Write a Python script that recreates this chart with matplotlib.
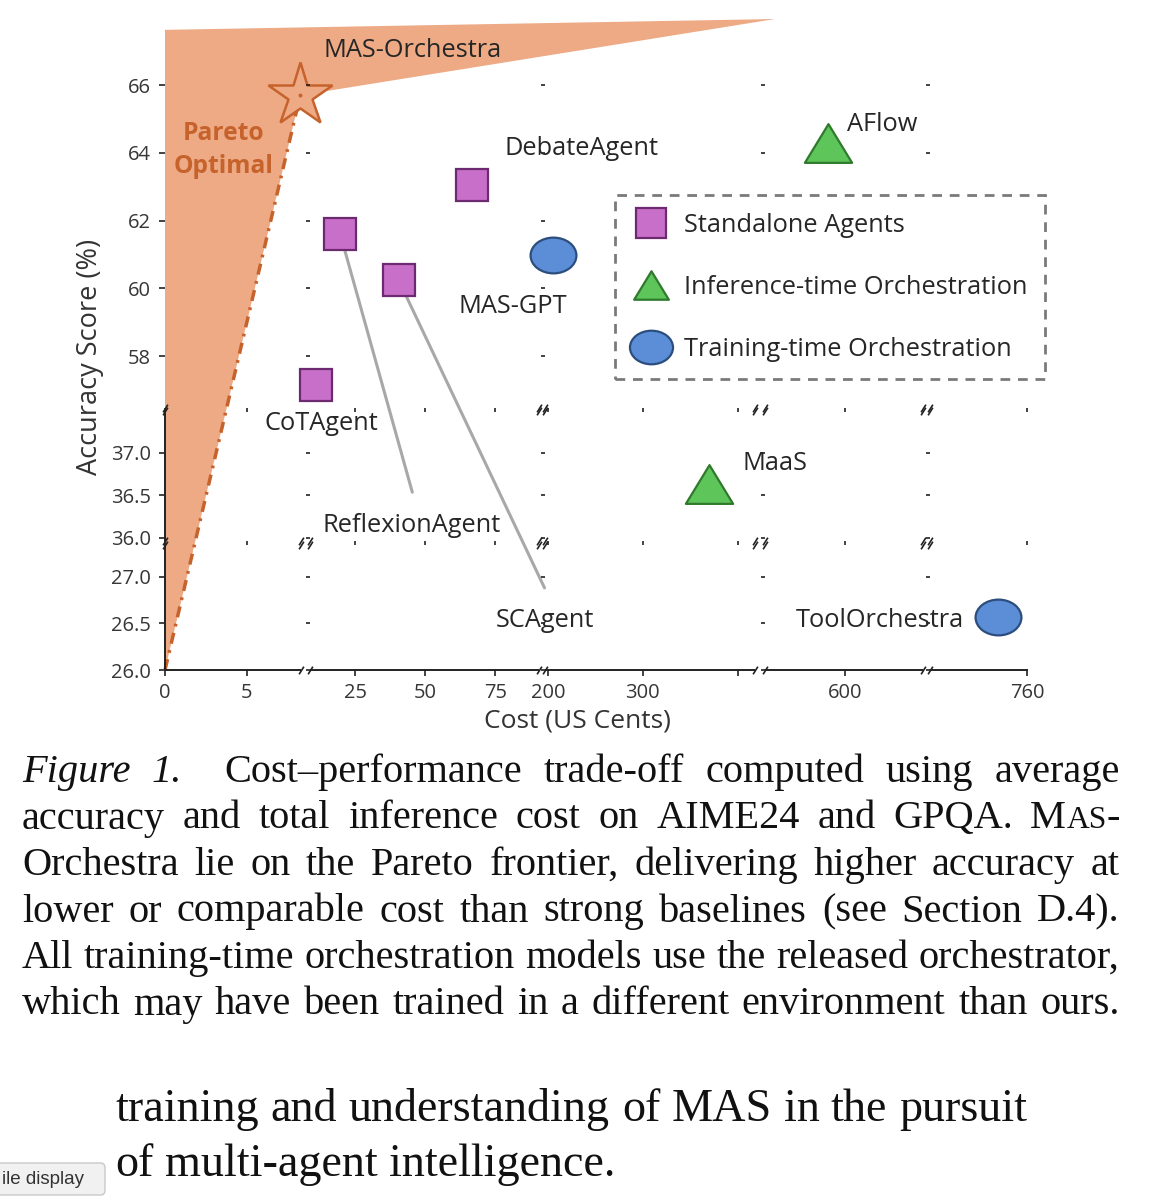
import re
import numpy as np
import matplotlib
matplotlib.use('Agg')
import matplotlib.pyplot as plt
from matplotlib.lines import Line2D
from matplotlib.path import Path
from matplotlib.patches import Polygon, FancyBboxPatch
from matplotlib.transforms import Affine2D

plt.rcParams['font.family'] = ['Open Sans', 'DejaVu Sans']

W, H = 1154, 1200

# ---------------- data ----------------
standalone_names = ["CoTAgent", "ReflexionAgent", "SCAgent", "DebateAgent"]
standalone_cost = [11.1, 19.6, 40.4, 66.8]
standalone_acc = [57.15, 61.6, 60.25, 63.05]

inference_names = ["AFlow", "MaaS"]
inference_cost = [583, 370]
inference_acc = [64.3, 36.63]

training_names = ["MAS-GPT", "ToolOrchestra"]
training_cost = [205, 743.5]
training_acc = [61.0, 26.57]

ours_name = "MAS-Orchestra"
ours_cost = 8.25
ours_acc = 65.7

x_ticks = [0, 5, 25, 50, 75, 200, 300, 400, 600, 760]
x_tick_labels = ["0", "5", "25", "50", "75", "200", "300", "", "600", "760"]
y_ticks = [26.0, 26.5, 27.0, 36.0, 36.5, 37.0, 58, 60, 62, 64, 66]
y_tick_labels = ["26.0", "26.5", "27.0", "36.0", "36.5", "37.0", "58", "60", "62", "64", "66"]

legend_labels = ["Standalone Agents", "Inference-time Orchestration",
                 "Training-time Orchestration"]

caption_lines = [
    "_Figure _1.  Cost\u2013performance trade-off computed using average",
    "accuracy and total inference cost on AIME24 and GPQA. MAS-",
    "Orchestra lie on the Pareto frontier, delivering higher accuracy at",
    "lower or comparable cost than strong baselines (see Section D.4).",
    "All training-time orchestration models use the released orchestrator,",
    "which may have been trained in a different environment than ours.",
]
body_lines = [
    "training and understanding of MAS in the pursuit",
    "of multi-agent intelligence.",
]

# ---------------- broken-axis layout (data edge -> pixel) ----------------
x_break_data = [0, 8.3, 8.6, 90.5, 197, 418, 520, 678, 705, 760.5]
x_break_px = [165, 301.1, 309.5, 538.8, 545, 755, 765, 923, 930, 1028]
y_break_data = [26.0, 27.34, 35.97, 37.5, 56.47, 67.98]
y_break_px = [670, 545, 540.5, 410.5, 408, 18]


def pw(v, xp, fp):
    v = np.asarray(v, dtype=float)
    xp = np.asarray(xp, float)
    fp = np.asarray(fp, float)
    out = np.interp(v, xp, fp)
    lo_s = (fp[1] - fp[0]) / (xp[1] - xp[0])
    hi_s = (fp[-1] - fp[-2]) / (xp[-1] - xp[-2])
    out = np.where(v < xp[0], fp[0] + (v - xp[0]) * lo_s, out)
    out = np.where(v > xp[-1], fp[-1] + (v - xp[-1]) * hi_s, out)
    return out


xpx = np.array(x_break_px, float)
ypx_neg = -np.array(y_break_px, float)


def fx(v):
    return pw(v, x_break_data, xpx)


def fxi(u):
    return pw(u, xpx, x_break_data)


def fy(v):
    return pw(v, y_break_data, ypx_neg)


def fyi(u):
    return pw(u, ypx_neg, y_break_data)


# ---------------- colours ----------------
ORANGE_FILL = '#EDAA85'
ORANGE_DARK = '#C6622C'
SQ_FACE, SQ_EDGE = '#C86FC9', '#6E2A70'
TRI_FACE, TRI_EDGE = '#5DC55A', '#2F7A2C'
CIR_FACE, CIR_EDGE = '#5B8ED6', '#2C4E7E'
TEXT = '#262626'
AXC = '#222222'
LABEL_FS = 18.3

fig = plt.figure(figsize=(W / 100, H / 100), dpi=100)
fig.patch.set_facecolor('white')

ax = fig.add_axes([x_break_px[0] / W, 1 - y_break_px[0] / H,
                   (x_break_px[-1] - x_break_px[0]) / W,
                   (y_break_px[0] - y_break_px[-1]) / H])
ax.set_xscale('function', functions=(fx, fxi))
ax.set_yscale('function', functions=(fy, fyi))
ax.set_xlim(x_break_data[0], x_break_data[-1])
ax.set_ylim(y_break_data[0], y_break_data[-1])
ax.patch.set_alpha(0)
for s in ax.spines.values():
    s.set_visible(False)

ax.set_xticks(x_ticks)
ax.set_xticklabels(x_tick_labels)
ax.set_yticks(y_ticks)
ax.set_yticklabels(y_tick_labels)
ax.minorticks_off()
ax.tick_params(axis='both', direction='out', length=4, width=1.2, color=AXC,
               labelsize=14.5, labelcolor='#363636')
ax.tick_params(axis='x', pad=5)
ax.tick_params(axis='y', pad=6)

# ---------------- Pareto region ----------------
pareto = Polygon([(0, 26.0), (0, 67.63), (530, 67.95), (ours_cost, ours_acc)],
                 closed=True, facecolor=ORANGE_FILL, edgecolor='none', zorder=1)
ax.add_patch(pareto)
ax.plot([0, ours_cost], [26.0, ours_acc], color=ORANGE_DARK, lw=2.5,
        linestyle=(0, (3.2, 1.9, 0.8, 1.9)), zorder=2, clip_on=False)
ax.text(ours_cost * 0.435, 64.09, "Pareto\nOptimal", ha='center', va='center',
        fontsize=17.7, fontweight='bold', color=ORANGE_DARK, linespacing=1.42,
        zorder=4)

# ---------------- axis lines (segments) ----------------
xt = ax.get_xaxis_transform()
yt = ax.get_yaxis_transform()
for i in range(0, len(x_break_data), 2):
    ax.plot([x_break_data[i], x_break_data[i + 1]], [0, 0], transform=xt,
            color=AXC, lw=1.4, clip_on=False, zorder=6, solid_capstyle='butt')
for i in range(0, 4, 2):
    ax.plot([0, 0], [y_break_data[i], y_break_data[i + 1]], transform=yt,
            color=AXC, lw=1.4, clip_on=False, zorder=6, solid_capstyle='butt')

# inner tick marks left by the hidden sub-axes
col_starts = x_break_data[2:-1:2]
row_bottoms = y_break_data[2:-1:2]
for cx in col_starts:
    ax.plot([cx] * len(y_ticks), y_ticks, ls='none', marker=0, ms=3.2,
            mew=1.2, color=AXC, zorder=6, clip_on=False)
for ry in row_bottoms:
    ax.plot(x_ticks, [ry] * len(x_ticks), ls='none', marker=3, ms=3.2,
            mew=1.2, color=AXC, zorder=6, clip_on=False)

# break marks at sub-axes corners
brk = Path([(-1, -1.6), (1, 1.6)], [Path.MOVETO, Path.LINETO])
x_gap_edges = x_break_data[1:-1]
y_gap_edges = y_break_data[1:-1]
hidden_corner_x = x_break_data[1:3]
hidden_corner_y = y_break_data[3:5]
bx, by = [], []
for xe in x_break_data[:-1]:
    for ye in y_break_data[:-1]:
        if (xe in hidden_corner_x) and (ye in hidden_corner_y):
            continue
        if (xe in x_gap_edges) or (ye in y_gap_edges):
            bx.append(xe)
            by.append(ye)
ax.plot(bx, by, ls='none', marker=brk, ms=5.5, mew=1.2, mfc='none',
        mec=AXC, zorder=6, clip_on=False)

# ---------------- markers ----------------
ellipse = Path.unit_circle().transformed(Affine2D().scale(1.0, 0.78))
tri = Path([(0, 0.41), (-0.5, -0.41), (0.5, -0.41), (0, 0.41)], closed=True)

ax.plot(standalone_cost, standalone_acc, ls='none', marker='s', ms=23,
        mfc=SQ_FACE, mec=SQ_EDGE, mew=1.6, zorder=5)
ax.plot(inference_cost, inference_acc, ls='none', marker=tri, ms=34,
        mfc=TRI_FACE, mec=TRI_EDGE, mew=1.6, zorder=5)
ax.plot(training_cost, training_acc, ls='none', marker=ellipse, ms=33,
        mfc=CIR_FACE, mec=CIR_EDGE, mew=1.6, zorder=5)
ax.plot([ours_cost], [ours_acc], ls='none', marker='*', ms=48,
        mfc=ORANGE_FILL, mec=ORANGE_DARK, mew=1.8, zorder=5)
ax.plot([ours_cost], [ours_acc], ls='none', marker='o', ms=1.8,
        color=ORANGE_DARK, zorder=6)

# ---------------- point labels (offsets in pixels) ----------------
label_offset_px = {
    "CoTAgent": (5, 39), "ReflexionAgent": (71, 291), "SCAgent": (146, 341),
    "DebateAgent": (109, -37), "AFlow": (54, -18), "MaaS": (66, -21),
    "MAS-GPT": (-40, 52), "ToolOrchestra": (-118, 4), "MAS-Orchestra": (112, -45),
}
# connector end points (pixels, relative to marker) and marker-side shrink (pt)
connector_end_px = {"ReflexionAgent": (72, 258, 12), "SCAgent": (146, 308, 13)}

all_names = standalone_names + inference_names + training_names + [ours_name]
all_cost = standalone_cost + inference_cost + training_cost + [ours_cost]
all_acc = standalone_acc + inference_acc + training_acc + [ours_acc]
for nm, cx, cy in zip(all_names, all_cost, all_acc):
    dx, dy = label_offset_px[nm]
    ax.annotate(nm, (cx, cy), textcoords='offset points',
                xytext=(dx * 0.72, -dy * 0.72), ha='center', va='center',
                fontsize=LABEL_FS, color=TEXT, zorder=7)
    if nm in connector_end_px:
        ex, ey, sb = connector_end_px[nm]
        ax.annotate('', (cx, cy), textcoords='offset points',
                    xytext=(ex * 0.72, -ey * 0.72),
                    arrowprops=dict(arrowstyle='-', color='#A8A8A8', lw=2.2,
                                    shrinkA=0, shrinkB=sb), zorder=4)

# ---------------- axis titles ----------------
fig.text(90 / W, 1 - 357 / H, "Accuracy Score (%)", rotation=90, ha='center',
         va='center', fontsize=19.5, color='#333333')
fig.text(577 / W, 1 - 721 / H, "Cost (US Cents)", ha='center', va='center',
         fontsize=19, color='#333333')

# ---------------- legend ----------------
handles = [
    Line2D([], [], ls='none', marker='s', ms=21.5, mfc=SQ_FACE, mec=SQ_EDGE, mew=1.6),
    Line2D([], [], ls='none', marker=tri, ms=25, mfc=TRI_FACE, mec=TRI_EDGE, mew=1.6),
    Line2D([], [], ls='none', marker=ellipse, ms=31, mfc=CIR_FACE, mec=CIR_EDGE, mew=1.6),
]
leg = fig.legend(handles, legend_labels, loc='upper left',
                 bbox_to_anchor=(615 / W, 1 - 195 / H), bbox_transform=fig.transFigure,
                 borderaxespad=0, fontsize=LABEL_FS, labelspacing=1.45,
                 handlelength=1.45, handletextpad=0.55, borderpad=0.7,
                 fancybox=False, framealpha=1, labelcolor=TEXT)
fr = leg.get_frame()
fr.set_edgecolor('#7a7a7a')
fr.set_linewidth(2.0)
fr.set_linestyle((0, (3.5, 2.8)))
fr.set_facecolor('white')

# ---------------- caption & body text ----------------
SERIF = 'Liberation Serif'
renderer = fig.canvas.get_renderer()


def text_w(s, size, style='normal'):
    t = fig.text(0, 0, s, fontsize=size, family=SERIF, style=style)
    w = t.get_window_extent(renderer=renderer).width
    t.remove()
    return w


def pieces_of(word):
    if word.startswith('_'):
        return [(word[1:], 1.0, 'italic')]
    if word == 'MAS-':
        return [('M', 1.0, 'normal'), ('AS', 0.78, 'normal'), ('-', 1.0, 'normal')]
    return [(word, 1.0, 'normal')]


def parse(line):
    toks = re.split(r'( +)', line)
    words, gaps = [], []
    for tk in toks:
        if tk.startswith(' '):
            gaps.append(len(tk))
        elif tk:
            words.append(pieces_of(tk))
    return words, gaps


FS0 = 30.0
space0 = text_w("a a", FS0) - text_w("aa", FS0)


def measure_line(line):
    words, gaps = parse(line)
    ws = [[text_w(p, FS0 * sc, st) for p, sc, st in wd] for wd in words]
    return words, gaps, ws


def natural(meas):
    words, gaps, ws = meas
    return sum(sum(w) for w in ws) + sum(gaps) * space0


cap_meas = [measure_line(l) for l in caption_lines]
body_meas = [measure_line(l) for l in body_lines]

cap_left, cap_right = 22, 1120
target = cap_right - cap_left
fs_cap = min(FS0 * target / natural(m) for m in cap_meas)
body_width = 1027 - 115
fs_body = FS0 * body_width / natural(body_meas[0])


def draw_line(meas, fs, left, baseline, width=None):
    k = fs / FS0
    words, gaps, ws = meas
    wsum = sum(sum(w) for w in ws) * k
    if width is None:
        unit = space0 * k
    else:
        unit = (width - wsum) / max(sum(gaps), 1)
    x = left
    for i, (wd, wl) in enumerate(zip(words, ws)):
        for (p, sc, st), pw_ in zip(wd, wl):
            fig.text(x / W, 1 - baseline / H, p, fontsize=fs * sc, family=SERIF,
                     style=st, ha='left', va='baseline', color='#111111')
            x += pw_ * k
        if i < len(gaps):
            x += gaps[i] * unit


cap_baselines = [782, 828.5, 875, 921.5, 968, 1014.5]
for meas, bl in zip(cap_meas, cap_baselines):
    draw_line(meas, fs_cap, cap_left, bl, width=target)

draw_line(body_meas[0], fs_body, 115, 1121, width=body_width)
draw_line(body_meas[1], fs_body, 115, 1176, width=None)

# ---------------- screenshot button ----------------
btn = FancyBboxPatch((-12 / W, 1 - 1195 / H), 117 / W, 32 / H,
                     boxstyle='round,pad=0,rounding_size=0.004',
                     transform=fig.transFigure, facecolor='#f1f1f1',
                     edgecolor='#c9c9c9', lw=1.0)
fig.patches.append(btn)
fig.text(2 / W, 1 - 1179 / H, "ile display", ha='left', va='center',
         fontsize=13.5, family=['Liberation Sans', 'DejaVu Sans'], color='#333333')

fig.savefig('out.png', dpi=100, facecolor='white')
